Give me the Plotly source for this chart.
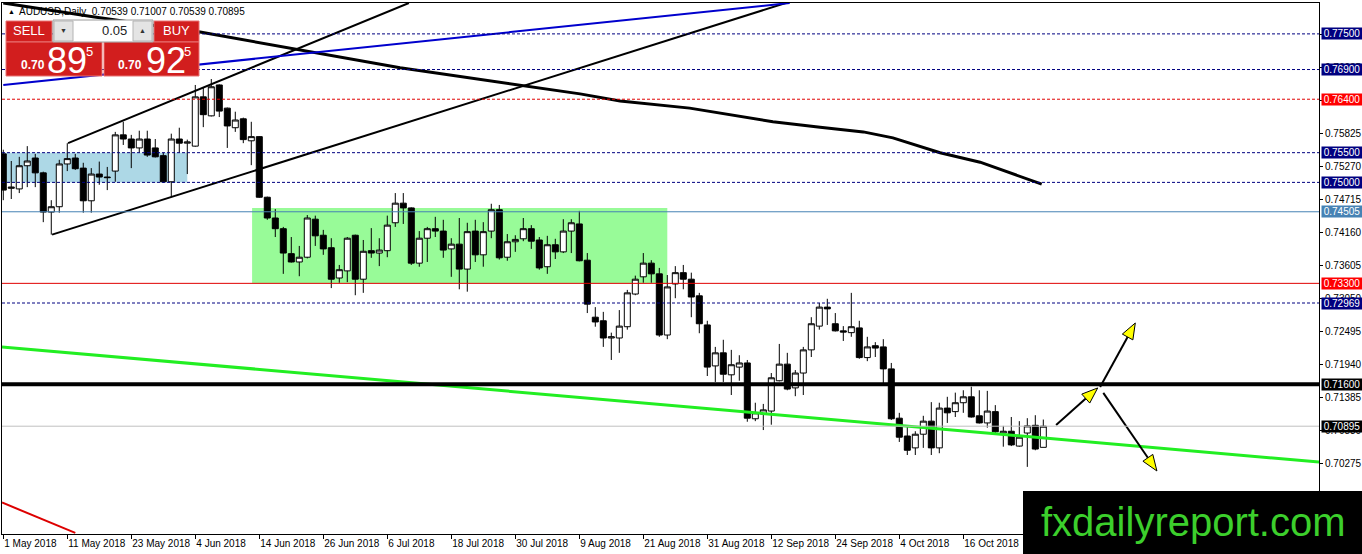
import plotly.graph_objects as go

# ---- daily candles, 1 May 2018 .. 30 Oct 2018 (AUDUSD) ----
opens = [
    0.7548, 0.7490, 0.7489, 0.7528, 0.7541, 0.7516, 0.7450, 0.7459, 0.7531, 0.7541,
    0.7524, 0.7469, 0.7514, 0.7509, 0.7519, 0.7580, 0.7573, 0.7558, 0.7573, 0.7558,
    0.7545, 0.7501, 0.7573, 0.7566, 0.7561, 0.7644, 0.7612, 0.7664, 0.7625, 0.7592,
    0.7607, 0.7570, 0.7577, 0.7475, 0.7440, 0.7422, 0.7380, 0.7366, 0.7374, 0.7438,
    0.7411, 0.7390, 0.7339, 0.7351, 0.7411, 0.7337, 0.7385, 0.7381, 0.7385, 0.7432,
    0.7465, 0.7457, 0.7364, 0.7406, 0.7422, 0.7418, 0.7388, 0.7396, 0.7354, 0.7418,
    0.7378, 0.7418, 0.7454, 0.7374, 0.7400, 0.7405, 0.7422, 0.7403, 0.7358, 0.7395,
    0.7383, 0.7418, 0.7430, 0.7369, 0.7273, 0.7267, 0.7238, 0.7238, 0.7257, 0.7312,
    0.7341, 0.7364, 0.7346, 0.7243, 0.7329, 0.7348, 0.7337, 0.7309, 0.7260, 0.7191,
    0.7213, 0.7176, 0.7189, 0.7196, 0.7102, 0.7110, 0.7115, 0.7166, 0.7194, 0.7154,
    0.7179, 0.7218, 0.7258, 0.7290, 0.7262, 0.7250, 0.7247, 0.7255, 0.7205, 0.7225,
    0.7223, 0.7186, 0.7103, 0.7073, 0.7053, 0.7076, 0.7098, 0.7053, 0.7120, 0.7114,
    0.7129, 0.7139, 0.7107, 0.7095, 0.7114, 0.7078, 0.7081, 0.7056, 0.7078, 0.7091,
    0.70539]
highs = [
    0.7555, 0.7536, 0.7543, 0.7561, 0.7548, 0.7518, 0.7470, 0.7538, 0.7566, 0.7548,
    0.7533, 0.7524, 0.7535, 0.7526, 0.7585, 0.7602, 0.7580, 0.7587, 0.7587, 0.7573,
    0.7550, 0.7582, 0.7592, 0.7572, 0.7664, 0.7659, 0.7674, 0.7665, 0.7626, 0.7619,
    0.7609, 0.7602, 0.7578, 0.7476, 0.7455, 0.7425, 0.7408, 0.7393, 0.7445, 0.7444,
    0.7420, 0.7406, 0.7361, 0.7408, 0.7412, 0.7403, 0.7423, 0.7406, 0.7444, 0.7482,
    0.7482, 0.7458, 0.7418, 0.7425, 0.7442, 0.7437, 0.7406, 0.7440, 0.7432, 0.7437,
    0.7433, 0.7464, 0.7462, 0.7413, 0.7411, 0.7440, 0.7428, 0.7408, 0.7410, 0.7405,
    0.7438, 0.7438, 0.7452, 0.7381, 0.7290, 0.7282, 0.7247, 0.7285, 0.7319, 0.7343,
    0.7381, 0.7369, 0.7356, 0.7344, 0.7359, 0.7361, 0.7348, 0.7314, 0.7267, 0.7223,
    0.7235, 0.7218, 0.7209, 0.7201, 0.7129, 0.7127, 0.7179, 0.7228, 0.7213, 0.7184,
    0.7223, 0.7273, 0.7297, 0.7304, 0.7280, 0.7258, 0.7314, 0.7267, 0.7240, 0.7231,
    0.7236, 0.7196, 0.7112, 0.7088, 0.7081, 0.7107, 0.7130, 0.7129, 0.7139, 0.7146,
    0.7150, 0.7156, 0.7150, 0.7149, 0.7125, 0.7090, 0.7105, 0.7098, 0.7103, 0.7108,
    0.71007]
lows = [
    0.7470, 0.7472, 0.7482, 0.7492, 0.7492, 0.7433, 0.7412, 0.7449, 0.7519, 0.7521,
    0.7449, 0.7449, 0.7496, 0.7487, 0.7501, 0.7563, 0.7524, 0.7550, 0.7543, 0.7542,
    0.7499, 0.7475, 0.7550, 0.7514, 0.7560, 0.7593, 0.7611, 0.7610, 0.7558, 0.7585,
    0.7566, 0.7529, 0.7474, 0.7437, 0.7408, 0.7346, 0.7365, 0.7342, 0.7372, 0.7393,
    0.7378, 0.7322, 0.7331, 0.7332, 0.7310, 0.7314, 0.7373, 0.7359, 0.7374, 0.7425,
    0.7430, 0.7361, 0.7358, 0.7366, 0.7408, 0.7373, 0.7341, 0.7320, 0.7316, 0.7366,
    0.7358, 0.7406, 0.7370, 0.7368, 0.7383, 0.7401, 0.7388, 0.7353, 0.7346, 0.7371,
    0.7381, 0.7381, 0.7367, 0.7280, 0.7257, 0.7223, 0.7201, 0.7213, 0.7252, 0.7310,
    0.7331, 0.7331, 0.7240, 0.7236, 0.7305, 0.7320, 0.7273, 0.7246, 0.7174, 0.7164,
    0.7164, 0.7142, 0.7166, 0.7097, 0.7098, 0.7083, 0.7092, 0.7165, 0.7150, 0.7140,
    0.7142, 0.7206, 0.7252, 0.7260, 0.7249, 0.7233, 0.7240, 0.7203, 0.7199, 0.7206,
    0.7162, 0.7100, 0.7063, 0.7041, 0.7041, 0.7053, 0.7041, 0.7044, 0.7095, 0.7105,
    0.7112, 0.7104, 0.7094, 0.7087, 0.7075, 0.7055, 0.7056, 0.7055, 0.7021, 0.7049,
    0.70539]
closes = [
    0.7487, 0.7492, 0.7528, 0.7536, 0.7516, 0.7450, 0.7459, 0.7531, 0.7540, 0.7523,
    0.7469, 0.7514, 0.7509, 0.7508, 0.7580, 0.7573, 0.7558, 0.7573, 0.7546, 0.7543,
    0.7501, 0.7573, 0.7566, 0.7568, 0.7644, 0.7614, 0.7661, 0.7620, 0.7595, 0.7605,
    0.7572, 0.7577, 0.7475, 0.7440, 0.7422, 0.7381, 0.7366, 0.7374, 0.7440, 0.7410,
    0.7388, 0.7337, 0.7353, 0.7406, 0.7337, 0.7384, 0.7381, 0.7386, 0.7428, 0.7465,
    0.7457, 0.7364, 0.7406, 0.7422, 0.7418, 0.7386, 0.7396, 0.7354, 0.7417, 0.7378,
    0.7417, 0.7454, 0.7373, 0.7400, 0.7404, 0.7422, 0.7401, 0.7356, 0.7395, 0.7383,
    0.7418, 0.7432, 0.7368, 0.7295, 0.7265, 0.7238, 0.7240, 0.7258, 0.7314, 0.7337,
    0.7364, 0.7346, 0.7243, 0.7324, 0.7348, 0.7337, 0.7307, 0.7262, 0.7189, 0.7213,
    0.7177, 0.7193, 0.7196, 0.7103, 0.7112, 0.7117, 0.7171, 0.7194, 0.7152, 0.7179,
    0.7218, 0.7262, 0.7290, 0.7287, 0.7250, 0.7248, 0.7257, 0.7205, 0.7223, 0.7221,
    0.7186, 0.7102, 0.7071, 0.7049, 0.7076, 0.7098, 0.7053, 0.7120, 0.7112, 0.7129,
    0.7139, 0.7105, 0.7095, 0.7115, 0.7080, 0.7081, 0.7058, 0.7071, 0.7090, 0.7051,
    0.70895]

# x axis labels (one every 8 bars)
date_bars = [0, 8, 16, 24, 32, 40, 48, 56, 64, 72, 80, 88, 96, 104, 112, 120]
date_labels = ["1 May 2018", "11 May 2018", "23 May 2018", "4 Jun 2018",
               "14 Jun 2018", "26 Jun 2018", "6 Jul 2018", "18 Jul 2018",
               "30 Jul 2018", "9 Aug 2018", "21 Aug 2018", "31 Aug 2018",
               "12 Sep 2018", "24 Sep 2018", "4 Oct 2018", "16 Oct 2018"]

# price scale ticks
price_ticks = [0.77490, 0.76935, 0.76380, 0.75825, 0.75270, 0.74715, 0.74160,
               0.73605, 0.73050, 0.72495, 0.71940, 0.71385, 0.70830, 0.70275,
               0.69720]

# horizontal levels drawn on the chart
levels = [0.77500, 0.76900, 0.76400, 0.75500, 0.75000, 0.74505, 0.73300,
          0.72969, 0.71600, 0.70895]
level_colors = ["#000080", "#000080", "#e00000", "#000080", "#000080",
                "#4682b4", "#e00000", "#000080", "#000000", "#c0c0c0"]
level_dash = ["3px,2px", "3px,2px", "3px,2px", "3px,2px", "3px,2px",
              "solid", "solid", "3px,2px", "solid", "solid"]
level_width = [1, 1, 1, 1, 1, 1, 1, 1, 4, 1]
label_colors = ["#000080", "#000080", "#ff0000", "#000080", "#000080",
                "#4682b4", "#ff0000", "#000080", "#000000", "#000000"]

# moving average (read at a few bars)
ma_x = [0, 11.2, 24.6, 37.1, 49.6, 72.1, 77.1, 85.8, 96.2, 102.1, 107.5,
        111.2, 117.1, 122.1, 129.8]
ma_y = [0.7802, 0.7779, 0.7753, 0.7723, 0.7693, 0.7649, 0.7637, 0.7625,
        0.7602, 0.7593, 0.7585, 0.7575, 0.7550, 0.7534, 0.7497]

# trend lines: (x0, y0, x1, y1, colour, width)
trend_lines = [
    (8.1, 0.7566, 50.7, 0.7802, "black", 2),      # channel top
    (6.1, 0.7412, 97.8, 0.7802, "black", 2),      # channel bottom
    (0.0, 0.7664, 98.3, 0.7802, "#0000cd", 2),    # blue line
    (-0.16, 0.7223, 164.46, 0.7029, "#22ee22", 3),  # green support
    (-0.16, 0.6961, 9.0, 0.6910, "#dd0000", 2),   # red line
]

# arrows: start -> tip
arrows = [
    (131.6, 0.70916, 136.8, 0.71539),
    (137.1, 0.71556, 141.5, 0.72633),
    (137.5, 0.71455, 144.2, 0.70141),
]

X0, X1 = -0.16, 164.46
Y0, Y1 = 0.6908, 0.7802
W, H = 1362, 554
ML, MR, MT, MB = 2, 43, 3, 20
PW, PH = W - ML - MR, H - MT - MB
SX = PW / (X1 - X0)
SY = PH / (Y1 - Y0)
FONT = "Liberation Sans, Arial, sans-serif"


def fx(px):
    return (px - ML) / PW


def fy(py):
    return 1 - (py - MT) / PH


fig = go.Figure()

# background boxes
shapes = [
    dict(type="rect", xref="x", yref="y", x0=-0.3, x1=23.0, y0=0.7500, y1=0.7550,
         fillcolor="#add8e6", line=dict(width=0), layer="below"),
    dict(type="rect", xref="x", yref="y", x0=31.1, x1=83.0, y0=0.7330, y1=0.7457,
         fillcolor="#98fb98", line=dict(width=0), layer="below"),
]

fig.add_trace(go.Candlestick(
    x=list(range(len(opens))), open=opens, high=highs, low=lows, close=closes,
    increasing=dict(line=dict(color="black", width=1), fillcolor="white"),
    decreasing=dict(line=dict(color="black", width=1), fillcolor="black"),
    whiskerwidth=0, showlegend=False, hoverinfo="skip"))

fig.add_trace(go.Scatter(x=ma_x, y=ma_y, mode="lines", line=dict(color="black", width=3),
                         showlegend=False, hoverinfo="skip"))

for x0, y0, x1, y1, col, wd in trend_lines:
    fig.add_trace(go.Scatter(x=[x0, x1], y=[y0, y1], mode="lines",
                             line=dict(color=col, width=wd), showlegend=False, hoverinfo="skip"))

# arrows with yellow heads
for xa, ya, xb, yb in arrows:
    dx, dy = (xb - xa) * SX, (yb - ya) * SY
    n = (dx * dx + dy * dy) ** 0.5
    ux, uy = dx / n, dy / n
    head, half = 16, 6
    bx, by = xb - ux * head / SX, yb - uy * head / SY
    nx, ny = -uy, ux
    fig.add_trace(go.Scatter(x=[xa, bx], y=[ya, by], mode="lines",
                             line=dict(color="black", width=2), showlegend=False, hoverinfo="skip"))
    fig.add_trace(go.Scatter(
        x=[xb, bx + nx * half / SX, bx - nx * half / SX, xb],
        y=[yb, by + ny * half / SY, by - ny * half / SY, yb],
        mode="lines", fill="toself", fillcolor="#ffff00",
        line=dict(color="black", width=1), showlegend=False, hoverinfo="skip"))

annotations = []

# horizontal levels and their price boxes
for lv, col, ds, wd, lc in zip(levels, level_colors, level_dash, level_width, label_colors):
    shapes.append(dict(type="line", xref="paper", yref="y", x0=0, x1=1, y0=lv, y1=lv,
                       line=dict(color=col, width=wd, dash=ds), layer="above"))
    annotations.append(dict(xref="paper", yref="y", x=fx(1321), y=lv, xanchor="left",
                            yanchor="middle", text="%.5f" % lv, showarrow=False,
                            font=dict(family=FONT, size=10, color="white"),
                            bgcolor=lc, width=40, height=11, borderpad=0, align="center"))

# one-click trading panel
red = "#d21e1e"
edge = "#e87272"
panel = [
    (6, 21, 52, 42, red, edge),
    (154, 21, 199, 42, red, edge),
    (6, 42, 102, 76, red, edge),
    (104, 42, 199, 76, red, edge),
    (53, 20, 153, 42, "white", "#9a9a9a"),
    (54, 21, 73, 41, "#e4e4e4", "#b4b4b4"),
    (133, 21, 152, 41, "#e4e4e4", "#b4b4b4"),
]
for x0, y0, x1, y1, fc, lc in panel:
    shapes.append(dict(type="rect", xref="paper", yref="paper",
                       x0=fx(x0), x1=fx(x1), y0=fy(y1), y1=fy(y0),
                       fillcolor=fc, line=dict(color=lc, width=1), layer="above"))

# watermark box
shapes.append(dict(type="rect", xref="paper", yref="paper", x0=fx(1023), x1=fx(1365),
                   y0=fy(557), y1=fy(491), fillcolor="black", line=dict(width=0), layer="above"))


def label(px, py, text, size, color="white", anchor="left", bold=False):
    if bold:
        text = "<b>" + text + "</b>"
    annotations.append(dict(xref="paper", yref="paper", x=fx(px), y=fy(py), text=text,
                            xanchor=anchor, yanchor="middle", showarrow=False,
                            font=dict(family=FONT, size=size, color=color)))


label(29, 31, "SELL", 13, anchor="center")
label(176, 31, "BUY", 13, anchor="center")
label(63, 31, "▼", 7, color="#333333", anchor="center")
label(142, 31, "▲", 7, color="#333333", anchor="center")
label(129, 31, "0.05", 13, color="#222222", anchor="right")
label(19, 65, "0.70", 12, bold=True)
label(45, 60, "89", 36)
label(84, 51, "5", 13)
label(116, 65, "0.70", 12, bold=True)
label(144, 60, "92", 36)
label(182, 51, "5", 13)
label(6, 11, "▲", 7, color="black")
label(17, 11, "AUDUSD,Daily  0.70539 0.71007 0.70539 0.70895", 10, color="black")
label(1193, 522, "fxdailyreport.com", 40, color="#3ccf2c", anchor="center")

fig.update_layout(
    width=W, height=H,
    margin=dict(l=ML, r=MR, t=MT, b=MB, autoexpand=False),
    paper_bgcolor="white", plot_bgcolor="white",
    boxgap=0.25, boxgroupgap=0,
    showlegend=False,
    shapes=shapes, annotations=annotations,
    xaxis=dict(range=[X0, X1], showgrid=False, zeroline=False, showline=True,
               linecolor="black", linewidth=1, mirror=True, automargin=False,
               tickmode="array", tickvals=date_bars, ticktext=date_labels,
               ticks="outside", ticklen=4, tickcolor="black", tickangle=0,
               ticklabelposition="outside right",
               tickfont=dict(family=FONT, size=10, color="black"),
               rangeslider=dict(visible=False), fixedrange=True),
    yaxis=dict(range=[Y0, Y1], side="right", showgrid=False, zeroline=False,
               showline=True, linecolor="black", linewidth=1, mirror=True,
               automargin=False,
               tickmode="array", tickvals=price_ticks,
               ticktext=["%.5f" % v for v in price_ticks],
               ticks="outside", ticklen=3, tickcolor="black",
               tickfont=dict(family=FONT, size=10, color="black"), fixedrange=True),
)

# the page's default body margin would push the chart off the window corner
fig.write_html("out.html", config={"displayModeBar": False},
               post_script="document.body.style.margin = '0';")
